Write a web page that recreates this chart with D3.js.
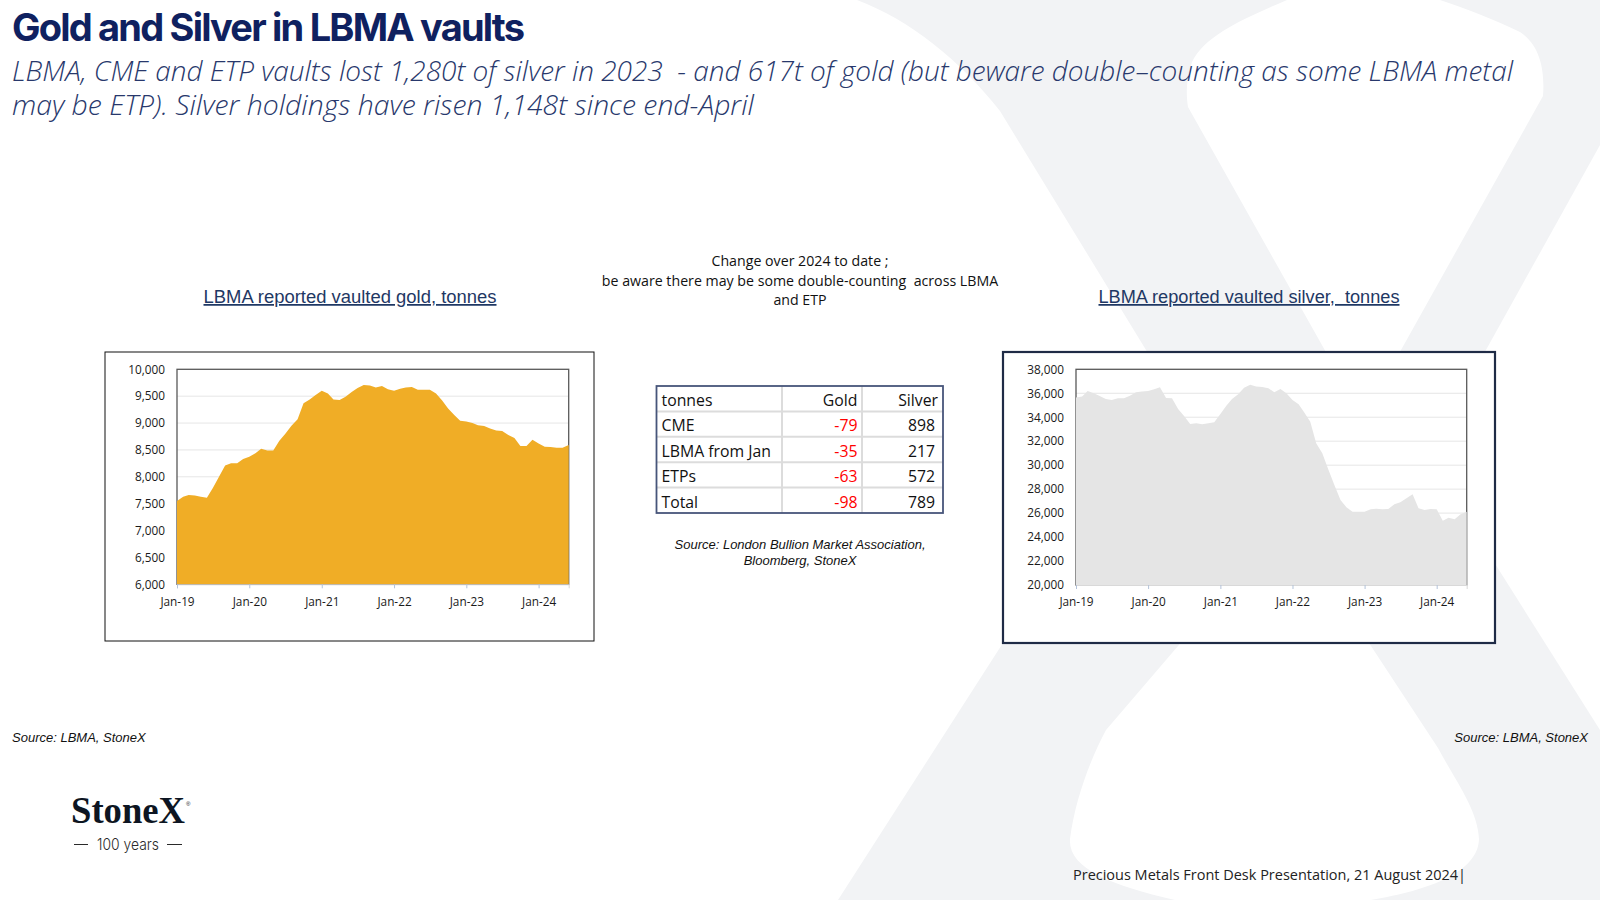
<!DOCTYPE html>
<html>
<head>
<meta charset="utf-8">
<script src="https://cdn.jsdelivr.net/npm/d3@7"></script>
<style>
  body { margin: 0; background: #fff; }
  svg { display: block; }
  text { white-space: pre; }
</style>
</head>
<body>
<svg id="slide" width="1600" height="900"></svg>
<script>
// monthly points, Jan-19 .. Jun-24
const months = d3.timeMonth.range(new Date(2019, 0, 1), new Date(2024, 6, 1));

const goldTonnes = [
  7550, 7630, 7660, 7650, 7630, 7610, 7790, 8000, 8210, 8250, 8250, 8330,
  8375, 8440, 8520, 8490, 8490, 8670, 8800, 8950, 9070, 9370, 9440, 9520,
  9600, 9550, 9440, 9430, 9490, 9580, 9650, 9710, 9700, 9660, 9690, 9630,
  9600, 9640, 9660, 9670, 9620, 9620, 9620, 9550, 9420, 9270, 9150, 9045,
  9030, 9000, 8960, 8945, 8900, 8860, 8850, 8780, 8720, 8575, 8575, 8690,
  8620, 8560, 8555, 8540, 8540, 8590];

const silverTonnes = [
  35640, 35720, 36190, 36000, 35780, 35530, 35440, 35580, 35580, 35800, 36080, 36140,
  36190, 36330, 36500, 35610, 35580, 34690, 34110, 33440, 33490, 33410, 33490, 33580,
  34270, 34970, 35530, 35920, 36470, 36720, 36560, 36530, 36420, 36080, 36360, 36000,
  35440, 35080, 34410, 33630, 31830, 30990, 29650, 28350, 27100, 26480, 26120, 26120,
  26120, 26320, 26370, 26320, 26340, 26730, 26900, 27230, 27570, 26400, 26260, 26340,
  26320, 25370, 25620, 25480, 25900, 26120];

const goldTicks = [6000, 6500, 7000, 7500, 8000, 8500, 9000, 9500, 10000];
const silverTicks = [20000, 22000, 24000, 26000, 28000, 30000, 32000, 34000, 36000, 38000];

const tableHeader = ["tonnes", "Gold", "Silver"];
const tableRows = ["CME", "LBMA from Jan", "ETPs", "Total"];
const tableGold = [-79, -35, -63, -98];
const tableSilver = [898, 217, 572, 789];

const svg = d3.select("#slide");
const font = "'Open Sans', 'Noto Sans', sans-serif";
const arial = "'Liberation Sans', Arial, sans-serif";

// big pale X in the background: grey body, white counters cut out
const bg = svg.append("g");
bg.append("path")
  .attr("d", "M857,0 L1600,0 L1600,900 L838,900 L1001,646 L1168,386 L1000,111 C960,60 910,20 857,0 Z")
  .attr("fill", "#f2f3f5");
[
  // top counter
  "M1287,0 C1245,18 1205,35 1192,62 C1186,80 1186,95 1188,107 L1363,418 L1543,96 C1545,70 1540,45 1520,32 C1495,20 1465,8 1440,0 Z",
  // right counter
  "M1600,145 L1427,456 L1600,730 Z",
  // bottom counter
  "M1175,900 C1110,885 1068,868 1070,839 C1075,800 1090,760 1106,730 L1178,646 L1275,520 L1371,646 L1438,748 C1455,780 1478,810 1479,839 C1478,872 1430,890 1371,900 Z"
].forEach(d => bg.append("path").attr("d", d).attr("fill", "#fff"));

// headline
svg.append("text")
  .attr("x", 12).attr("y", 41)
  .attr("font-family", "Inter, sans-serif").attr("font-weight", 700)
  .attr("font-size", 38).attr("fill", "#0f2160")
  .attr("textLength", 513).attr("lengthAdjust", "spacing")
  .text("Gold and Silver in LBMA vaults");

const sub = [
  ["LBMA, CME and ETP vaults lost 1,280t of silver in 2023  - and 617t of gold (but beware double\u2013counting as some LBMA metal", 81, 1501],
  ["may be ETP). Silver holdings have risen 1,148t since end-April", 115, 742]];
svg.selectAll(".sub").data(sub).join("text")
  .attr("class", "sub")
  .attr("x", 12).attr("y", d => d[1])
  .attr("font-family", font).attr("font-style", "italic").attr("font-weight", 300)
  .attr("font-size", 27).attr("fill", "#28386c")
  .attr("textLength", d => d[2]).attr("lengthAdjust", "spacingAndGlyphs")
  .text(d => d[0]);

function drawChart(opt) {
  const g = svg.append("g");

  const x = d3.scaleTime().domain(d3.extent(months)).range([opt.left, opt.right]);
  const y = d3.scaleLinear()
    .domain([opt.ticks[0], opt.ticks[opt.ticks.length - 1]])
    .range([opt.bottom, opt.top]);

  // title
  g.append("text")
    .attr("x", opt.titleX).attr("y", 303)
    .attr("text-anchor", "middle")
    .attr("font-family", arial).attr("font-size", 17.5)
    .attr("fill", "#1f3864")
    .attr("text-decoration", "underline")
    .attr("textLength", opt.titleW).attr("lengthAdjust", "spacingAndGlyphs")
    .text(opt.title);

  // outer box
  g.append("rect")
    .attr("x", opt.box[0]).attr("y", opt.box[1])
    .attr("width", opt.box[2] - opt.box[0]).attr("height", opt.box[3] - opt.box[1])
    .attr("fill", "#fff").attr("stroke", opt.boxStroke).attr("stroke-width", opt.boxWidth);

  // gridlines
  g.selectAll(".grid").data(opt.ticks.slice(1, -1)).join("line")
    .attr("x1", opt.left).attr("x2", opt.right)
    .attr("y1", d => y(d)).attr("y2", d => y(d))
    .attr("stroke", "#e6e6e6").attr("stroke-width", 1);

  // plot frame
  g.append("rect")
    .attr("x", opt.left).attr("y", opt.top)
    .attr("width", opt.right - opt.left).attr("height", opt.bottom - opt.top)
    .attr("fill", "none").attr("stroke", "#595959").attr("stroke-width", 1.3);

  const area = d3.area()
    .x((d, i) => x(months[i]))
    .y0(y(opt.ticks[0]))
    .y1(d => y(d));

  g.append("path")
    .datum(opt.values)
    .attr("d", area)
    .attr("fill", opt.fill);

  // axes
  const yAxis = g.append("g")
    .attr("transform", `translate(${opt.left},0)`)
    .call(d3.axisLeft(y).tickValues(opt.ticks).tickFormat(d3.format(",")).tickSize(0).tickPadding(12));
  yAxis.select(".domain").remove();

  const xAxis = g.append("g")
    .attr("transform", `translate(0,${opt.bottom})`)
    .call(d3.axisBottom(x).ticks(d3.timeYear.every(1)).tickFormat(d3.timeFormat("%b-%y")).tickSize(4).tickPadding(9));
  xAxis.select(".domain").attr("stroke", "#d9d9d9");
  xAxis.selectAll(".tick line").attr("stroke", "#b4c3d9");

  g.selectAll(".tick text")
    .attr("font-family", font).attr("font-size", 11.8).attr("fill", "#1a1a1a");
}

drawChart({
  title: "LBMA reported vaulted gold, tonnes", titleX: 350, titleW: 293,
  box: [105, 352, 594, 641], boxStroke: "#111", boxWidth: 1,
  left: 177, right: 568.7, top: 369.3, bottom: 584.3,
  ticks: goldTicks, values: goldTonnes, fill: "#f0ad26"
});

drawChart({
  title: "LBMA reported vaulted silver,  tonnes", titleX: 1249, titleW: 301,
  box: [1003, 352, 1495, 643], boxStroke: "#1f2b46", boxWidth: 2.2,
  left: 1076, right: 1466.7, top: 369.3, bottom: 585,
  ticks: silverTicks, values: silverTonnes, fill: "#e5e5e5"
});

// note above the table
const note = ["Change over 2024 to date ;", "be aware there may be some double-counting  across LBMA", "and ETP"];
svg.selectAll(".note").data(note).join("text")
  .attr("class", "note")
  .attr("x", 800).attr("y", (d, i) => 266 + i * 19.6)
  .attr("text-anchor", "middle")
  .attr("font-family", font).attr("font-size", 14.2).attr("fill", "#111")
  .text(d => d);

// table
const colX = [656.5, 782, 862, 943];
const rowY = d3.scaleBand().domain(d3.range(tableRows.length + 1)).range([386, 513]);
const tbl = svg.append("g");

tbl.append("rect")
  .attr("x", colX[0]).attr("y", 386)
  .attr("width", colX[3] - colX[0]).attr("height", 127)
  .attr("fill", "#fff");

tbl.selectAll(".hl").data(d3.range(1, tableRows.length + 1)).join("line")
  .attr("x1", colX[0]).attr("x2", colX[3])
  .attr("y1", d => rowY(d)).attr("y2", d => rowY(d))
  .attr("stroke", "#dcdcdc").attr("stroke-width", 2);

tbl.selectAll(".vl").data([colX[1], colX[2]]).join("line")
  .attr("x1", d => d).attr("x2", d => d)
  .attr("y1", 386).attr("y2", 513)
  .attr("stroke", "#dcdcdc").attr("stroke-width", 2);

tbl.append("rect")
  .attr("x", colX[0]).attr("y", 386)
  .attr("width", colX[3] - colX[0]).attr("height", 127)
  .attr("fill", "none").attr("stroke", "#47557a").attr("stroke-width", 1.8);

const cells = [];
cells.push({ t: tableHeader[0], x: 661.5, r: 0, a: "start", c: "#111" });
cells.push({ t: tableHeader[1], x: 857.5, r: 0, a: "end", c: "#111" });
cells.push({ t: tableHeader[2], x: 938, r: 0, a: "end", c: "#111" });
tableRows.forEach((name, i) => {
  cells.push({ t: name, x: 661.5, r: i + 1, a: "start", c: "#111" });
  cells.push({ t: String(tableGold[i]), x: 857.5, r: i + 1, a: "end", c: tableGold[i] < 0 ? "#ff0000" : "#111" });
  cells.push({ t: String(tableSilver[i]), x: 935, r: i + 1, a: "end", c: "#111" });
});

tbl.selectAll(".cell").data(cells).join("text")
  .attr("class", "cell")
  .attr("x", d => d.x)
  .attr("y", d => rowY(d.r) + rowY.bandwidth() - 5.5)
  .attr("text-anchor", d => d.a)
  .attr("font-family", font).attr("font-size", 15.8)
  .attr("fill", d => d.c)
  .text(d => d.t);

const tblSource = ["Source: London Bullion Market Association,", "Bloomberg, StoneX"];
svg.selectAll(".tsrc").data(tblSource).join("text")
  .attr("class", "tsrc")
  .attr("x", 800).attr("y", (d, i) => 548.5 + i * 16)
  .attr("text-anchor", "middle")
  .attr("font-family", arial).attr("font-style", "italic")
  .attr("font-size", 13).attr("fill", "#111")
  .text(d => d);

// sources
svg.append("text")
  .attr("x", 12).attr("y", 742)
  .attr("font-family", arial).attr("font-style", "italic").attr("font-size", 13).attr("fill", "#111")
  .text("Source: LBMA, StoneX");
svg.append("text")
  .attr("x", 1588).attr("y", 742).attr("text-anchor", "end")
  .attr("font-family", arial).attr("font-style", "italic").attr("font-size", 13).attr("fill", "#111")
  .text("Source: LBMA, StoneX");

// footer
svg.append("text")
  .attr("x", 1073).attr("y", 880)
  .attr("font-family", font).attr("font-size", 15).attr("fill", "#222")
  .attr("textLength", 393).attr("lengthAdjust", "spacingAndGlyphs")
  .text("Precious Metals Front Desk Presentation, 21 August 2024|");

// logo
const logo = svg.append("g");
logo.append("text")
  .attr("x", 71).attr("y", 823)
  .attr("font-family", "'Liberation Serif', 'DejaVu Serif', serif").attr("font-weight", 700)
  .attr("font-size", 38).attr("fill", "#0d1522")
  .attr("textLength", 114).attr("lengthAdjust", "spacingAndGlyphs")
  .text("StoneX");
logo.append("text")
  .attr("x", 186).attr("y", 806)
  .attr("font-family", arial).attr("font-size", 6).attr("fill", "#0d1522")
  .text("\u00ae");
logo.append("text")
  .attr("x", 128).attr("y", 850).attr("text-anchor", "middle")
  .attr("font-family", "Inter, sans-serif").attr("font-weight", 300)
  .attr("font-size", 16).attr("fill", "#2a2a2a")
  .attr("textLength", 62).attr("lengthAdjust", "spacingAndGlyphs")
  .text("100 years");
logo.selectAll(".dash").data([[74, 88], [167, 182]]).join("line")
  .attr("x1", d => d[0]).attr("x2", d => d[1])
  .attr("y1", 844.5).attr("y2", 844.5)
  .attr("stroke", "#2a2a2a").attr("stroke-width", 1);
</script>
</body>
</html>
